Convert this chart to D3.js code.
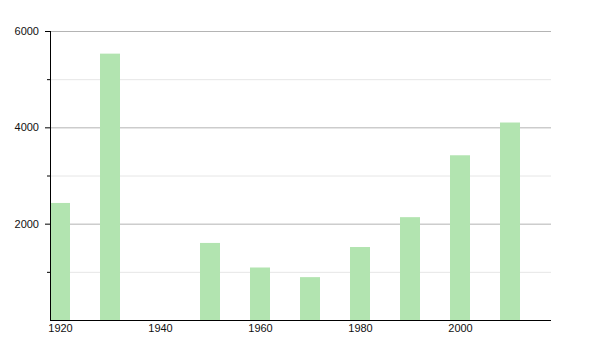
<!DOCTYPE html>
<html lang="en">
<head>
<meta charset="utf-8">
<title>Bars by decade</title>
<script src="https://d3js.org/d3.v7.min.js"></script>
<style>
  body { margin: 0; background: #fff; }
  text { font-family: "Liberation Sans", Arial, sans-serif; }
</style>
</head>
<body>
<script>
var years = [1920, 1930, 1950, 1960, 1970, 1980, 1990, 2000, 2010];
var values = [2430, 5530, 1600, 1090, 890, 1515, 2135, 3420, 4100];
var yMajorTicks = [2000, 4000, 6000];
var yMinorTicks = [1000, 3000, 5000];
var xTicks = [1920, 1940, 1960, 1980, 2000];

var margin = {top: 31, right: 49, bottom: 30, left: 50},
    width = 600 - margin.left - margin.right,
    height = 350 - margin.top - margin.bottom;

var svg = d3.select("body").append("svg")
    .attr("width", 600)
    .attr("height", 350)
  .append("g")
    .attr("transform", "translate(" + margin.left + "," + margin.top + ")");

var x = d3.scaleLinear().domain([1918, 2018.2]).range([0, width]);
var y = d3.scaleLinear().domain([0, 6000]).range([height, 0]);

// grid lines
svg.append("g").selectAll("line")
    .data(yMinorTicks)
    .enter().append("line")
    .attr("x1", 0).attr("x2", width)
    .attr("y1", function(d) { return y(d) + 0.5; })
    .attr("y2", function(d) { return y(d) + 0.5; })
    .attr("stroke", "#e6e6e6");

svg.append("g").selectAll("line")
    .data(yMajorTicks)
    .enter().append("line")
    .attr("x1", 0).attr("x2", width)
    .attr("y1", function(d) { return y(d) + 0.5; })
    .attr("y2", function(d) { return y(d) + 0.5; })
    .attr("stroke", "#b4b4b4");

// bars
var barW = x(1924) - x(1920);
svg.append("g").selectAll("rect")
    .data(years)
    .enter().append("rect")
    .attr("x", function(d) { return x(d) - barW / 2; })
    .attr("width", barW)
    .attr("y", function(d, i) { return y(values[i]); })
    .attr("height", function(d, i) { return height - y(values[i]); })
    .attr("fill", "#b2e4b0");

// y axis
var yAxis = svg.append("g")
    .call(d3.axisLeft(y).tickValues(yMajorTicks).tickSize(5).tickPadding(6).tickFormat(d3.format("d")));
yAxis.select(".domain").attr("d", "M0.5," + y(6000) + "V" + height);
yAxis.selectAll("text").attr("font-size", "11px").attr("fill", "#111");
yAxis.selectAll("line").attr("stroke", "#000");

svg.append("g").selectAll("line")
    .data(yMinorTicks)
    .enter().append("line")
    .attr("x1", -3).attr("x2", 0)
    .attr("y1", function(d) { return y(d) + 0.5; })
    .attr("y2", function(d) { return y(d) + 0.5; })
    .attr("stroke", "#000");

// x axis
var xAxis = svg.append("g")
    .attr("transform", "translate(0," + height + ")")
    .call(d3.axisBottom(x).tickValues(xTicks).tickSize(0).tickPadding(4).tickFormat(d3.format("d")));
xAxis.select(".domain").attr("d", "M0," + 0.5 + "H" + width).attr("stroke", "#000");
xAxis.selectAll("text").attr("font-size", "11px").attr("fill", "#111");
</script>
</body>
</html>
